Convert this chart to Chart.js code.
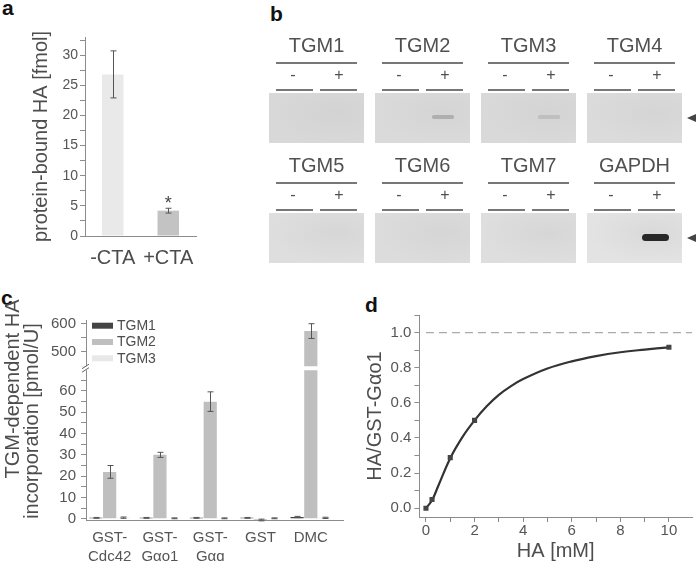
<!DOCTYPE html>
<html>
<head>
<meta charset="utf-8">
<script src="https://cdn.jsdelivr.net/npm/chart.js@4.4.1/dist/chart.umd.min.js"></script>
<style>
  html, body { margin: 0; padding: 0; background: #fff; width: 696px; height: 561px; overflow: hidden; }
  body { position: relative; font-family: "Liberation Sans", Arial, sans-serif; color: #4d4d4d; }
  .panel { position: absolute; }
  .letter { position: absolute; font-weight: bold; font-size: 21px; line-height: 1; color: #111; }
  .rot { position: absolute; white-space: nowrap; font-size: 20px; line-height: 1; transform: translate(-50%, -50%) rotate(-90deg); }
  .blk { position: absolute; }
</style>
</head>
<body>
<div class="letter" style="left:2px; top:-3px">a</div>
<div class="letter" style="left:270px; top:3px">b</div>
<div class="letter" style="left:1px; top:287px">c</div>
<div class="letter" style="left:365px; top:294px">d</div>

<div class="panel" style="left:0; top:0; width:230px; height:280px"><canvas id="chartA"></canvas></div>
<div class="panel" id="blots" style="left:0; top:0; width:696px; height:280px"></div>
<div class="panel" style="left:0; top:290px; width:350px; height:271px"><canvas id="chartC"></canvas></div>
<div class="rot" style="left:12px; top:389px">TGM-dependent HA</div>
<div class="rot" style="left:30.5px; top:421px">incorporation [pmol/U]</div>
<div class="panel" style="left:350px; top:290px; width:346px; height:275px"><canvas id="chartD"></canvas></div>

<script>
/* ---------- data ---------- */
// a: protein-bound HA
const ctaLabels = ["-CTA", "+CTA"];
const ctaValues = [26.8, 4.2];
const ctaErrors = [3.9, 0.4];
const ctaMarks = ["", "*"];
const ctaColors = ["#e9e9e9", "#c3c3c3"];
const ctaTicks = [0, 5, 10, 15, 20, 25, 30];

// b: blots
const blotNames = ["TGM1", "TGM2", "TGM3", "TGM4", "TGM5", "TGM6", "TGM7", "GAPDH"];
const laneMarks = ["-", "+"];
const bandSignal = [0, 0.23, 0.14, 0, 0, 0, 0, 1]; // signal in the "+" lane

// c: TGM-dependent incorporation
const substrates = [["GST-", "Cdc42"], ["GST-", "G\u03b1o1"], ["GST-", "G\u03b1q"], ["GST"], ["DMC"]];
const tgm1Values = [0.4, 0.4, 0.4, 0.4, 0.8];
const tgm1Errors = [0.2, 0.2, 0.2, 0.2, 0.3];
const tgm2Values = [22, 30, 55, -0.6, 573];
const tgm2Errors = [3, 1.2, 4.6, 0.4, 26];
const tgm3Values = [0.5, 0.2, 0.2, 0.2, 0.4];
const tgm3Errors = [0.3, 0.2, 0.2, 0.2, 0.3];
const lowTicks = [0, 10, 20, 30, 40, 50, 60];
const highTicks = [500, 600];

// d: HA titration
const haConc = [0, 0.25, 1, 2, 10];
const haRatio = [0, 0.05, 0.288, 0.5, 0.916];
const fitConc = [0, 0.25, 0.5, 1, 1.5, 2, 2.5, 3, 3.5, 4, 5, 6, 7, 8, 9, 10];
const fitRatio = [0, 0.045, 0.125, 0.285, 0.405, 0.5, 0.58, 0.645, 0.695, 0.735, 0.795, 0.836, 0.866, 0.888, 0.903, 0.916];
const saturation = 1.0;
const saturationRange = [0, 11];
const concTicks = [0, 2, 4, 6, 8, 10];
const ratioTicks = [0, 0.2, 0.4, 0.6, 0.8, 1.0];

/* ---------- common ---------- */
const FONT = '"Liberation Sans", Arial, sans-serif';
const AXIS = "#8c8c8c";
Chart.defaults.font.family = FONT;
Chart.defaults.color = "#555";
Chart.defaults.animation = false;
Chart.defaults.plugins.legend.display = false;
Chart.defaults.plugins.tooltip.enabled = false;

// error bars from dataset.errors
const errorBars = {
  id: "errorBars",
  afterDatasetsDraw(chart) {
    const ctx = chart.ctx;
    chart.data.datasets.forEach((ds, i) => {
      if (!ds.errors) return;
      const meta = chart.getDatasetMeta(i);
      const ys = chart.scales[meta.yAxisID];
      ctx.save();
      ctx.strokeStyle = "#555";
      ctx.lineWidth = 1;
      meta.data.forEach((bar, j) => {
        const v = ds.data[j], e = ds.errors[j];
        if (v == null || e == null || v > ys.max) return;
        const y1 = ys.getPixelForValue(v + e);
        const y2 = ys.getPixelForValue(v - e);
        const x = Math.round(bar.x) + 0.5;
        ctx.beginPath();
        ctx.moveTo(x, y1); ctx.lineTo(x, y2);
        ctx.moveTo(x - 3, y1); ctx.lineTo(x + 3, y1);
        ctx.moveTo(x - 3, y2); ctx.lineTo(x + 3, y2);
        ctx.stroke();
      });
      ctx.restore();
    });
  }
};

function yAxisBase(extra) {
  return Object.assign({
    grid: { drawOnChartArea: false, tickLength: 5, color: AXIS },
    border: { color: AXIS },
    beginAtZero: false
  }, extra);
}

/* ---------- a ---------- */
const markPlugin = {
  id: "marks",
  afterDatasetsDraw(chart) {
    const ctx = chart.ctx;
    const ds = chart.data.datasets[0];
    const meta = chart.getDatasetMeta(0);
    const ys = chart.scales.y;
    ctx.save();
    ctx.font = "18px " + FONT;
    ctx.fillStyle = "#444";
    ctx.textAlign = "center";
    meta.data.forEach((bar, j) => {
      if (!ds.marks[j]) return;
      ctx.fillText(ds.marks[j], bar.x, ys.getPixelForValue(ds.data[j] + ds.errors[j]) + 0.5);
    });
    ctx.restore();
  }
};

new Chart(document.getElementById("chartA"), {
  type: "bar",
  data: {
    labels: ctaLabels,
    datasets: [{
      data: ctaValues, errors: ctaErrors, marks: ctaMarks,
      backgroundColor: ctaColors, barPercentage: 0.9, categoryPercentage: 0.43
    }]
  },
  options: {
    responsive: true, maintainAspectRatio: false,
    layout: { padding: { left: 0, top: 37, right: 34, bottom: 0 } },
    scales: {
      x: {
        grid: { display: false }, border: { color: AXIS },
        ticks: { padding: 2, autoSkip: false, maxRotation: 0, minRotation: 0, font: { size: 20 }, color: "#4d4d4d" },
        afterFit: (s) => { s.height = 44; }
      },
      y: yAxisBase({
        min: 0, max: 33,
        ticks: { stepSize: 2.5, includeBounds: false, autoSkip: false, padding: 2, font: { size: 14 },
          callback: (v) => (ctaTicks.includes(v) ? v : "") },
        title: { display: true, text: "protein-bound HA [fmol]", color: "#4d4d4d", font: { size: 20 }, padding: { top: 29, bottom: 0 } },
        afterFit: (s) => { s.width = 85; }
      })
    }
  },
  plugins: [errorBars, markPlugin]
});

/* ---------- b ---------- */
(function drawBlots() {
  const root = document.getElementById("blots");
  const colX = [269, 375, 481, 587];
  const rowTop = [0, 120];
  const tone = ["#d8d8d8", "#dadada", "#d9d9d9", "#dbdbdb", "#dedede", "#dcdcdc", "#dedede", "#e3e3e3"];
  const add = (css, text) => {
    const d = document.createElement("div");
    d.className = "blk";
    d.style.cssText = css;
    if (text) d.textContent = text;
    root.appendChild(d);
    return d;
  };
  blotNames.forEach((name, i) => {
    const x = colX[i % 4], dy = rowTop[Math.floor(i / 4)];
    add(`left:${x}px;top:${35 + dy}px;width:95px;text-align:center;font-size:20px;line-height:20px;color:#505050`, name);
    add(`left:${x + 7}px;top:${62 + dy}px;width:81px;height:1.5px;background:#777`);
    laneMarks.forEach((m, k) => {
      add(`left:${x + 24 + 46 * k - 10}px;top:${67 + dy}px;width:20px;text-align:center;font-size:16px;line-height:16px;color:#505050`, m);
      add(`left:${x + 7 + 44 * k}px;top:${89 + dy}px;width:37px;height:1.5px;background:#777`);
    });
    add(`left:${x}px;top:${93 + dy}px;width:95px;height:50px;background:${tone[i]};` +
      `background-image:radial-gradient(ellipse at 70% 40%, rgba(205,205,205,0.45), rgba(230,230,230,0) 70%)`);
    const s = bandSignal[i];
    if (s > 0) {
      const w = 21 + 6 * s, h = 2.5 + 4.5 * s;
      const g = Math.round(215 - 175 * s);
      const blur = s < 0.5 ? "filter:blur(0.7px);" : "";
      add(`left:${x + 68 - w / 2}px;top:${117 + dy - h / 2}px;width:${w}px;height:${h}px;border-radius:${h / 2}px;` +
        `background:rgb(${g},${g},${g});${blur}`);
    }
  });
  rowTop.forEach((dy) => {
    add(`left:687px;top:${113.5 + dy}px;width:0;height:0;border-top:4.5px solid transparent;border-bottom:4.5px solid transparent;border-right:9px solid #444`);
  });
})();

/* ---------- c ---------- */
const clipToAxis = {
  id: "clipToAxis",
  beforeDatasetDraw(chart, args) {
    const ds = chart.data.datasets[args.index];
    const ys = chart.scales[ds.yAxisID];
    const { left, right } = chart.chartArea;
    const top = ds.yAxisID === "yLow" ? ys.top + 0.5 : ys.top;
    const bottom = ds.yAxisID === "yLow" ? ys.bottom + 4 : ys.bottom - 3.5;
    chart.ctx.save();
    chart.ctx.beginPath();
    chart.ctx.rect(left, top, right - left, bottom - top);
    chart.ctx.clip();
  },
  afterDatasetDraw(chart) {
    chart.ctx.restore();
  }
};

const axisBreak = {
  id: "axisBreak",
  afterDraw(chart) {
    const ctx = chart.ctx;
    const b = chart.scales.yLow.top - 1.5;
    const x = chart.chartArea.left;
    ctx.save();
    ctx.fillStyle = "#fff";
    ctx.fillRect(x - 6, b - 2, 9, 4);
    ctx.strokeStyle = "#666";
    ctx.lineWidth = 1;
    ctx.beginPath();
    ctx.moveTo(x - 4, b + 0.5); ctx.lineTo(x + 3, b - 4);
    ctx.moveTo(x - 4, b + 4); ctx.lineTo(x + 3, b - 0.5);
    ctx.stroke();
    ctx.restore();
  }
};

const cLegend = {
  id: "cLegend",
  afterDraw(chart) {
    const { ctx, chartArea } = chart;
    ctx.save();
    ctx.font = "14px " + FONT;
    ctx.textBaseline = "middle";
    chart.data.datasets.forEach((ds, i) => {
      if (ds.legend === false) return;
      const yc = chartArea.top + 5.7 + i * 16.3;
      ctx.fillStyle = ds.backgroundColor;
      ctx.fillRect(chartArea.left + 6, yc - 3, 21, 6);
      ctx.fillStyle = "#4d4d4d";
      ctx.fillText(ds.label, chartArea.left + 31, yc + 0.5);
    });
    ctx.restore();
  }
};

const barOpts = { barPercentage: 0.96, categoryPercentage: 0.82, clip: false };
new Chart(document.getElementById("chartC"), {
  type: "bar",
  data: {
    labels: substrates.map((s, i) => i),
    datasets: [
      Object.assign({ label: "TGM1", data: tgm1Values, errors: tgm1Errors, backgroundColor: "#444444", yAxisID: "yLow", stack: "g1" }, barOpts),
      Object.assign({ label: "TGM2", data: tgm2Values, errors: tgm2Errors, backgroundColor: "#bfbfbf", yAxisID: "yLow", stack: "g2" }, barOpts),
      Object.assign({ label: "TGM3", data: tgm3Values, errors: tgm3Errors, backgroundColor: "#e8e8e8", yAxisID: "yLow", stack: "g3" }, barOpts),
      Object.assign({ label: "TGM2", legend: false, data: tgm2Values.map((v) => (v > 100 ? v : null)), errors: tgm2Errors,
        backgroundColor: "#bfbfbf", yAxisID: "yHigh", stack: "g2" }, barOpts)
    ]
  },
  options: {
    responsive: true, maintainAspectRatio: false,
    layout: { padding: { left: 0, top: 30, right: 7, bottom: 0 } },
    scales: {
      x: {
        type: "linear", offset: false, min: -0.47, max: 4.64,
        grid: { display: false, offset: false }, border: { color: AXIS },
        ticks: { stepSize: 1, includeBounds: false, autoSkip: false, maxRotation: 0, padding: 1,
          font: { size: 15, lineHeight: 1.22 }, callback: (v) => substrates[v] },
        afterFit: (s) => { s.height = 41; }
      },
      yLow: yAxisBase({
        position: "left", stack: "c", stackWeight: 150.3, stacked: false, offset: false,
        min: -0.6, max: 70,
        ticks: { stepSize: 5, includeBounds: false, autoSkip: false, padding: 5, font: { size: 15 },
          callback: (v) => (lowTicks.includes(v) ? v : "") },
        afterFit: (s) => { s.width = 86; }
      }),
      yHigh: yAxisBase({
        position: "left", stack: "c", stackWeight: 49.7, stacked: false, offset: false,
        min: 437, max: 612,
        ticks: { stepSize: 50, includeBounds: false, autoSkip: false, padding: 5, font: { size: 15 },
          callback: (v) => (highTicks.includes(v) ? v : "") },
        afterFit: (s) => { s.width = 86; }
      })
    }
  },
  plugins: [clipToAxis, errorBars, axisBreak, cLegend]
});

/* ---------- d ---------- */
new Chart(document.getElementById("chartD"), {
  type: "line",
  data: {
    datasets: [
      {
        data: haConc.map((x, i) => ({ x, y: haRatio[i] })),
        showLine: false, pointStyle: "rect", pointRadius: 3.6,
        backgroundColor: "#444", borderColor: "#444", borderWidth: 0
      },
      {
        data: fitConc.map((x, i) => ({ x, y: fitRatio[i] })),
        borderColor: "#333", borderWidth: 2.2, pointRadius: 0, tension: 0.4
      },
      {
        data: saturationRange.map((x) => ({ x, y: saturation })),
        borderColor: "#aaa", borderWidth: 1.2, borderDash: [8, 5], pointRadius: 0
      }
    ]
  },
  options: {
    responsive: true, maintainAspectRatio: false,
    layout: { padding: { left: 0, top: 25, right: 2.6, bottom: 0 } },
    scales: {
      x: {
        type: "linear", min: -0.27, max: 10.95,
        grid: { drawOnChartArea: false, tickLength: 5, color: AXIS }, border: { color: AXIS },
        ticks: { stepSize: 1, includeBounds: false, autoSkip: false, maxRotation: 0, padding: 0, font: { size: 15 },
          callback: (v) => (concTicks.includes(v) ? v : "") },
        title: { display: true, text: "HA [mM]", color: "#4d4d4d", font: { size: 20 }, padding: { top: 0, bottom: 1.3 } },
        afterFit: (s) => { s.height = 48; }
      },
      y: yAxisBase({
        min: -0.05, max: 1.1,
        ticks: { stepSize: 0.1, includeBounds: false, autoSkip: false, padding: 3, font: { size: 15 },
          callback: (v) => (ratioTicks.some((t) => Math.abs(t - v) < 1e-6) ? v.toFixed(1) : "") },
        title: { display: true, text: "HA/GST-G\u03b1o1", color: "#4d4d4d", font: { size: 20 }, padding: { top: 13.5, bottom: 0 } },
        afterFit: (s) => { s.width = 69.4; }
      })
    }
  }
});
</script>
</body>
</html>
